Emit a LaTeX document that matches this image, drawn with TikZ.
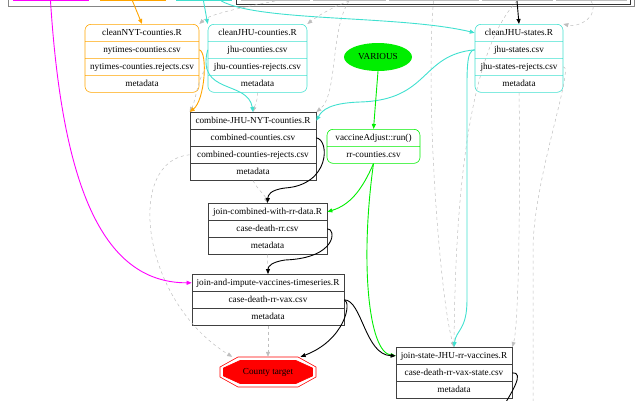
\documentclass[tikz,border=0pt]{standalone}
\usepackage{fontspec}
\setmainfont{Liberation Serif}
\usepackage{xcolor}
\usetikzlibrary{shapes.multipart,shapes.geometric,arrows.meta,positioning,calc}
\definecolor{nytorange}{RGB}{255,165,0}
\definecolor{jhuturq}{RGB}{64,224,208}
\definecolor{vaxgreen}{RGB}{0,238,0}
\definecolor{nytmagenta}{RGB}{255,0,255}
\definecolor{deadgray}{RGB}{190,190,190}

\begin{document}
\begin{tikzpicture}[
    x=1pt, y=-1pt,
    rec/.style={rectangle split, rectangle split parts=#1, draw, line width=0.6pt,
        font=\fontsize{9.2}{11}\selectfont\strut, inner xsep=3pt, inner ysep=2.7pt},
    orgrec/.style={rec=#1, draw=nytorange, rounded corners=6pt},
    turqrec/.style={rec=#1, draw=jhuturq, rounded corners=6pt},
    greenrec/.style={rec=#1, draw=vaxgreen, rounded corners=6pt},
    blackrec/.style={rec=#1, draw=black!75},
    srcbox/.style={draw, rectangle, minimum height=20pt, inner sep=0pt, line width=0.6pt},
    arrow/.style={->, >={Triangle[length=5pt,width=4pt]}, line width=0.9pt},
    dead/.style={->, >={Triangle[length=5pt,width=4pt]}, deadgray, dashed, line width=0.5pt}
]
\useasboundingbox (0,0) rectangle (640,400);

% sources, cut off at the top
\draw[deadgray!70!black, line width=0.6pt] (8,-20) rectangle (634,6);
\node[srcbox, draw=nytmagenta, minimum width=75pt, anchor=south] (srcmag) at (50.5,1) {};
\node[srcbox, draw=nytorange, minimum width=65pt, anchor=south] (srcnyt) at (132.5,1) {};
\node[srcbox, draw=jhuturq, minimum width=55pt, anchor=south] (srcjhu) at (203.5,1) {};
\node[srcbox, draw=black!80, minimum width=394pt, anchor=south] (srcstate) at (433,4.5) {};
\node[srcbox, draw=deadgray, minimum width=68pt, anchor=south] (cella) at (275,1) {};
\node[srcbox, draw=deadgray, minimum width=72pt, anchor=south] (cellb) at (349,1) {};
\node[srcbox, draw=deadgray, minimum width=89pt, anchor=south] (cellc) at (433.5,1) {};
\node[srcbox, draw=deadgray, minimum width=70pt, anchor=south] (celld) at (517,1) {};
\node[srcbox, draw=deadgray, minimum width=70pt, anchor=south] (celle) at (591,1) {};

% cleaning steps
\node[orgrec=4, minimum width=114pt, anchor=north] (nyt) at (142,24)
    {cleanNYT-counties.R \nodepart{two} nytimes-counties.csv
     \nodepart{three} nytimes-counties.rejects.csv \nodepart{four} metadata};
\node[turqrec=4, minimum width=99pt, anchor=north] (jhuc) at (257.5,24)
    {cleanJHU-counties.R \nodepart{two} jhu-counties.csv
     \nodepart{three} jhu-counties-rejects.csv \nodepart{four} metadata};
\node[turqrec=4, minimum width=88pt, anchor=north] (jhus) at (519,24)
    {cleanJHU-states.R \nodepart{two} jhu-states.csv
     \nodepart{three} jhu-states-rejects.csv \nodepart{four} metadata};
\node[ellipse, fill=vaxgreen, minimum width=68pt, minimum height=28pt, inner sep=0pt,
    font=\fontsize{9.2}{11}\selectfont] (various) at (378,57) {VARIOUS};

% county chain
\node[blackrec=4, minimum width=126pt, anchor=north] (comb) at (253,112)
    {combine-JHU-NYT-counties.R \nodepart{two} combined-counties.csv
     \nodepart{three} combined-counties-rejects.csv \nodepart{four} metadata};
\node[greenrec=2, minimum width=93pt, anchor=north] (vadj) at (373.5,129)
    {vaccineAdjust::run() \nodepart{two} rr-counties.csv};
\node[blackrec=3, minimum width=119pt, anchor=north] (joincomb) at (267.5,203)
    {join-combined-with-rr-data.R \nodepart{two} case-death-rr.csv \nodepart{three} metadata};
\node[blackrec=3, minimum width=152pt, anchor=north] (joinimp) at (268,274)
    {join-and-impute-vaccines-timeseries.R \nodepart{two} case-death-rr-vax.csv
     \nodepart{three} metadata};
\node[blackrec=3, minimum width=116pt, anchor=north] (joinstate) at (454,347)
    {join-state-JHU-rr-vaccines.R \nodepart{two} case-death-rr-vax-state.csv
     \nodepart{three} metadata};

% target
\coordinate (tc) at (268,372);
\draw[red, line width=0.6pt] ($(tc)+(-30,-15)$) -- ($(tc)+(30,-15)$) -- ($(tc)+(48,-5)$)
    -- ($(tc)+(48,5)$) -- ($(tc)+(30,15)$) -- ($(tc)+(-30,15)$) -- ($(tc)+(-48,5)$)
    -- ($(tc)+(-48,-5)$) -- cycle;
\draw[red, fill=red, line width=0.6pt] ($(tc)+(-28,-11.5)$) -- ($(tc)+(28,-11.5)$)
    -- ($(tc)+(44.5,-4)$) -- ($(tc)+(44.5,4)$) -- ($(tc)+(28,11.5)$) -- ($(tc)+(-28,11.5)$)
    -- ($(tc)+(-44.5,4)$) -- ($(tc)+(-44.5,-4)$) -- cycle;
\node[minimum width=96pt, minimum height=30pt, inner sep=0pt,
    font=\fontsize{9.2}{11}\selectfont] (target) at (tc) {County target};
\coordinate (sink) at (500,412);
\coordinate (sink2) at (533,412);

% dead ends
\draw[dead] (cella.south) .. controls (240,8) and (210,14) .. (nyt.north east);
\draw[dead] (cellb.south) .. controls (330,8) and (315,18) .. (jhuc.north east);
\draw[dead] (celle.south) .. controls (600,15) and (580,28) .. (jhus.north east);
\draw[dead] (cellb.south) .. controls (330,30) and (338,95) .. (comb.north east);
\draw[dead] (cellc.south) .. controls (425,100) and (440,300) .. (joinstate.north);
\draw[dead] (celld.south) .. controls (460,60) and (455,250) .. (joinstate.north);
\draw[dead] (jhuc.three west) .. controls (198,75) and (196,100) .. (comb.north west);
\draw[dead] (jhuc.four south) .. controls (258,100) and (255,105) .. (comb.north);
\draw[dead] (jhus.four south) .. controls (520,150) and (520,320) .. (joinstate.north east);
\draw[dead] (jhus.three east) .. controls (575,66) and (533,180) .. (533,250) -- (sink2);
\draw[dead] (comb.three west) .. controls (125,160) and (140,300) .. (target.157);
\draw[dead] (comb.four south) .. controls (258,190) and (265,195) .. (joincomb.north);
\draw[dead] (joincomb.three south) -- (joinimp.north);
\draw[dead] (joinimp.three south) -- (target.north);

% coloured flows
\draw[arrow, nytmagenta] (srcmag.south) .. controls (62,180) and (100,283) .. (joinimp.text west);
\draw[arrow, nytorange] (srcnyt.south) -- (nyt.north);
\draw[arrow, nytorange] (nyt.two east) .. controls (208,52) and (205,100) .. (comb.north west);
\draw[arrow, jhuturq] (srcjhu.south) -- (jhuc.north west);
\draw[arrow, jhuturq] (srcjhu.-30) .. controls (260,22) and (400,15) .. (jhus.text west);
\draw[arrow, jhuturq] (jhuc.two west) .. controls (196,95) and (248,80) .. (comb.north);
\draw[arrow, jhuturq] (jhus.two west) .. controls (420,55) and (430,100) .. (360,102)
    .. controls (330,103) and (322,110) .. (comb.text east);
\draw[arrow, jhuturq] (jhus.two west) .. controls (466,50) and (467,70) .. (467,110)
    -- (467,300) .. controls (467,330) and (456,330) .. (joinstate.north);
\draw[arrow, black] (celld.south) -- (jhus.north);
\draw[arrow, vaxgreen] (various.south) -- (vadj.north);
\draw[arrow, vaxgreen] (vadj.two south) .. controls (362,190) and (350,205) .. (joincomb.text east);
\draw[arrow, vaxgreen] (vadj.two south) .. controls (360,260) and (368,352) .. (joinstate.text west);
\draw[arrow, black] (comb.two east) .. controls (330,140) and (330,185) .. (285,188)
    .. controls (270,190) and (268,195) .. (joincomb.north);
\draw[arrow, black] (joincomb.two east) .. controls (336,228) and (338,258) .. (285,260)
    .. controls (272,262) and (268,266) .. (joinimp.north);
\draw[arrow, black] (joinimp.two east) .. controls (352,302) and (345,340) .. (target.25);
\draw[arrow, black] (joinimp.two east) .. controls (362,300) and (365,355) .. (joinstate.text west);
\draw[line width=0.9pt] (joinstate.two east) .. controls (525,372) and (512,392) .. (sink);

\end{tikzpicture}
\end{document}
